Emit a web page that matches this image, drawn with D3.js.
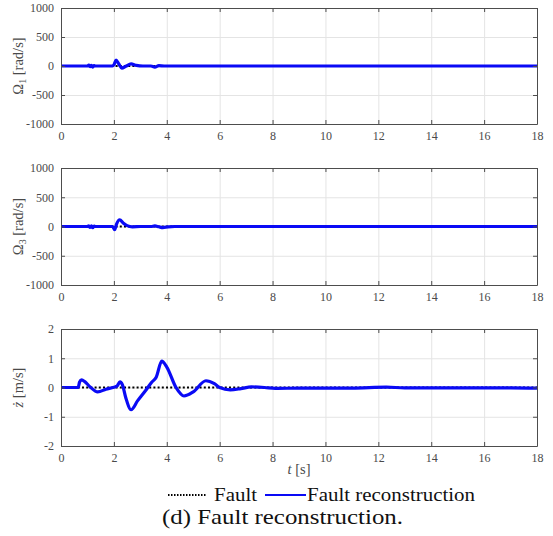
<!DOCTYPE html>
<html>
<head>
<meta charset="utf-8">
<script src="https://cdn.jsdelivr.net/npm/d3@7"></script>
<style>
  body { margin: 0; background: #fff; }
  svg { display: block; }
</style>
</head>
<body>
<svg id="chart" width="553" height="536"></svg>
<script>
// x ticks shared by all panels
const timeTicks = [0, 2, 4, 6, 8, 10, 12, 14, 16, 18];
const omegaTicks = [-1000, -500, 0, 500, 1000];
const zdotTicks = [-2, -1, 0, 1, 2];

// fault (dotted, zero everywhere)
const faultT = [0, 18];
const faultV = [0, 0];

// Omega_1 reconstruction
const omega1T = [0, 1.0, 1.05, 1.1, 1.15, 1.2, 1.25, 1.3, 1.95, 2.0, 2.08, 2.18, 2.3, 2.45, 2.65, 2.85, 3.1, 3.4, 3.55, 3.7, 3.9, 18];
const omega1V = [0, 0, 15, -10, 10, -20, 5, 0, 0, 20, 100, 40, -35, -5, 35, 10, 0, 0, -20, 5, 0, 0];

// Omega_3 reconstruction
const omega3T = [0, 1.0, 1.05, 1.1, 1.15, 1.2, 1.25, 1.3, 1.95, 2.03, 2.1, 2.22, 2.35, 2.5, 2.7, 3.0, 3.4, 3.55, 3.7, 3.85, 4.05, 4.3, 18];
const omega3V = [0, 0, 10, -15, 12, -20, 5, 0, 0, -55, 40, 115, 60, 15, -5, 0, 0, 10, -5, -18, -5, 0, 0];

// z-dot reconstruction
const zdotT = [0, 0.65, 0.7, 0.78, 0.9, 1.1, 1.39, 1.7, 2.0, 2.12, 2.23, 2.32, 2.45, 2.65, 2.9, 3.2, 3.43, 3.6, 3.81, 4.0, 4.35, 4.65, 5.0, 5.48, 5.8, 6.0, 6.4, 6.8, 7.2, 7.7, 8.1, 9, 10, 11, 12.3, 13, 14, 15, 16, 17, 18];
const zdotV = [0, 0, 0.18, 0.26, 0.2, 0.02, -0.15, -0.06, 0.01, 0.05, 0.19, 0.1, -0.35, -0.76, -0.45, -0.1, 0.18, 0.35, 0.9, 0.7, 0.0, -0.29, -0.15, 0.23, 0.13, 0.0, -0.08, -0.04, 0.02, 0, -0.03, -0.02, -0.02, -0.02, 0.01, -0.01, -0.01, -0.01, -0.01, -0.01, -0.02];

var svg = d3.select("#chart");
var left = 61, right = 537;
var serif = "Liberation Serif";

var x = d3.scaleLinear().domain([0, 18]).range([left, right]);

var panels = [
  {top: 8, bottom: 124, domain: [-1000, 1000], ticks: omegaTicks, t: omega1T, v: omega1V, sym: "Ω", sub: "1", unit: " [rad/s]"},
  {top: 168, bottom: 285, domain: [-1000, 1000], ticks: omegaTicks, t: omega3T, v: omega3V, sym: "Ω", sub: "3", unit: " [rad/s]"},
  {top: 329, bottom: 446, domain: [-2, 2], ticks: zdotTicks, t: zdotT, v: zdotV, sym: "ż", sub: "", unit: " [m/s]", italic: true}
];

function drawPanel(p) {
  var y = d3.scaleLinear().domain(p.domain).range([p.bottom, p.top]);
  var h = p.bottom - p.top;
  var g = svg.append("g");

  // grid
  g.append("g")
    .attr("transform", "translate(0," + p.bottom + ")")
    .call(d3.axisBottom(x).tickValues(timeTicks).tickSize(-h).tickFormat(""))
    .call(s => s.select(".domain").remove())
    .call(s => s.selectAll("line").attr("stroke", "#e4e4e4").attr("stroke-width", 1));
  g.append("g")
    .attr("transform", "translate(" + left + ",0)")
    .call(d3.axisLeft(y).tickValues(p.ticks).tickSize(-(right - left)).tickFormat(""))
    .call(s => s.select(".domain").remove())
    .call(s => s.selectAll("line").attr("stroke", "#e4e4e4").attr("stroke-width", 1));

  // lines
  var clipId = "clip" + p.top;
  g.append("clipPath").attr("id", clipId)
    .append("rect").attr("x", left).attr("y", p.top).attr("width", right - left).attr("height", h);

  var line = d3.line().x(d => x(d[0])).y(d => y(d[1])).curve(d3.curveMonotoneX);

  g.append("path")
    .attr("clip-path", "url(#" + clipId + ")")
    .attr("d", line(faultT.map((t, i) => [t, faultV[i]])))
    .attr("fill", "none").attr("stroke", "#000").attr("stroke-width", 2.2)
    .attr("stroke-dasharray", "2,2.2");

  g.append("path")
    .attr("clip-path", "url(#" + clipId + ")")
    .attr("d", line(p.t.map((t, i) => [t, p.v[i]])))
    .attr("fill", "none").attr("stroke", "#0a0af5").attr("stroke-width", 3.2)
    .attr("stroke-linejoin", "round");

  // axes: ticks inside on all four sides
  var axisColor = "#4d4d4d";
  var bottomAx = g.append("g").attr("transform", "translate(0," + p.bottom + ")")
    .call(d3.axisBottom(x).tickValues(timeTicks).tickSize(-4).tickSizeOuter(0).tickPadding(7));
  var topAx = g.append("g").attr("transform", "translate(0," + p.top + ")")
    .call(d3.axisTop(x).tickValues(timeTicks).tickSize(-4).tickSizeOuter(0).tickFormat(""));
  var leftAx = g.append("g").attr("transform", "translate(" + left + ",0)")
    .call(d3.axisLeft(y).tickValues(p.ticks).tickSize(-4).tickSizeOuter(0).tickPadding(7)
      .tickFormat(d => d < 0 ? "-" + Math.abs(d) : d));
  var rightAx = g.append("g").attr("transform", "translate(" + right + ",0)")
    .call(d3.axisRight(y).tickValues(p.ticks).tickSize(-4).tickSizeOuter(0).tickFormat(""));
  [bottomAx, topAx, leftAx, rightAx].forEach(a => {
    a.attr("font-family", serif).attr("font-size", 12);
    a.select(".domain").attr("stroke", axisColor).attr("stroke-width", 1);
    a.selectAll(".tick line").attr("stroke", axisColor);
    a.selectAll(".tick text").attr("fill", "#4a4a4a");
  });

  // y label
  var cy = (p.top + p.bottom) / 2;
  var lab = g.append("text")
    .attr("transform", "translate(23," + cy + ") rotate(-90)")
    .attr("text-anchor", "middle")
    .attr("font-family", serif)
    .attr("font-size", 14.5)
    .attr("fill", "#4a4a4a");
  var s = lab.append("tspan").text(p.sym);
  if (p.italic) s.attr("font-style", "italic");
  if (p.sub) lab.append("tspan").attr("font-size", 10).attr("dy", 3).text(p.sub);
  lab.append("tspan").attr("dy", p.sub ? -3 : 0).text(p.unit);
}

panels.forEach(drawPanel);

// x label
var xl = svg.append("text")
  .attr("x", x(9)).attr("y", 474)
  .attr("text-anchor", "middle")
  .attr("font-family", serif)
  .attr("font-size", 14.5)
  .attr("fill", "#4a4a4a");
xl.append("tspan").attr("font-style", "italic").text("t");
xl.append("tspan").text(" [s]");

// legend
var legY = 495;
var leg = svg.append("g");
leg.append("line").attr("x1", 168).attr("x2", 207).attr("y1", legY).attr("y2", legY)
  .attr("stroke", "#000").attr("stroke-width", 2).attr("stroke-dasharray", "1.5,1.5");
leg.append("text").attr("x", 214).attr("y", legY + 6)
  .attr("font-family", serif).attr("font-size", 18.5)
  .attr("textLength", 43).attr("lengthAdjust", "spacingAndGlyphs")
  .attr("fill", "#111").text("Fault");
leg.append("line").attr("x1", 265).attr("x2", 306).attr("y1", legY).attr("y2", legY)
  .attr("stroke", "#0a0af5").attr("stroke-width", 2.2);
leg.append("text").attr("x", 307).attr("y", legY + 6)
  .attr("font-family", serif).attr("font-size", 18.5)
  .attr("textLength", 168).attr("lengthAdjust", "spacingAndGlyphs")
  .attr("fill", "#111").text("Fault reconstruction");

// caption
svg.append("text").attr("x", 162).attr("y", 524)
  .attr("font-family", serif).attr("font-size", 22)
  .attr("textLength", 241).attr("lengthAdjust", "spacingAndGlyphs")
  .attr("fill", "#111").text("(d) Fault reconstruction.");
</script>
</body>
</html>
